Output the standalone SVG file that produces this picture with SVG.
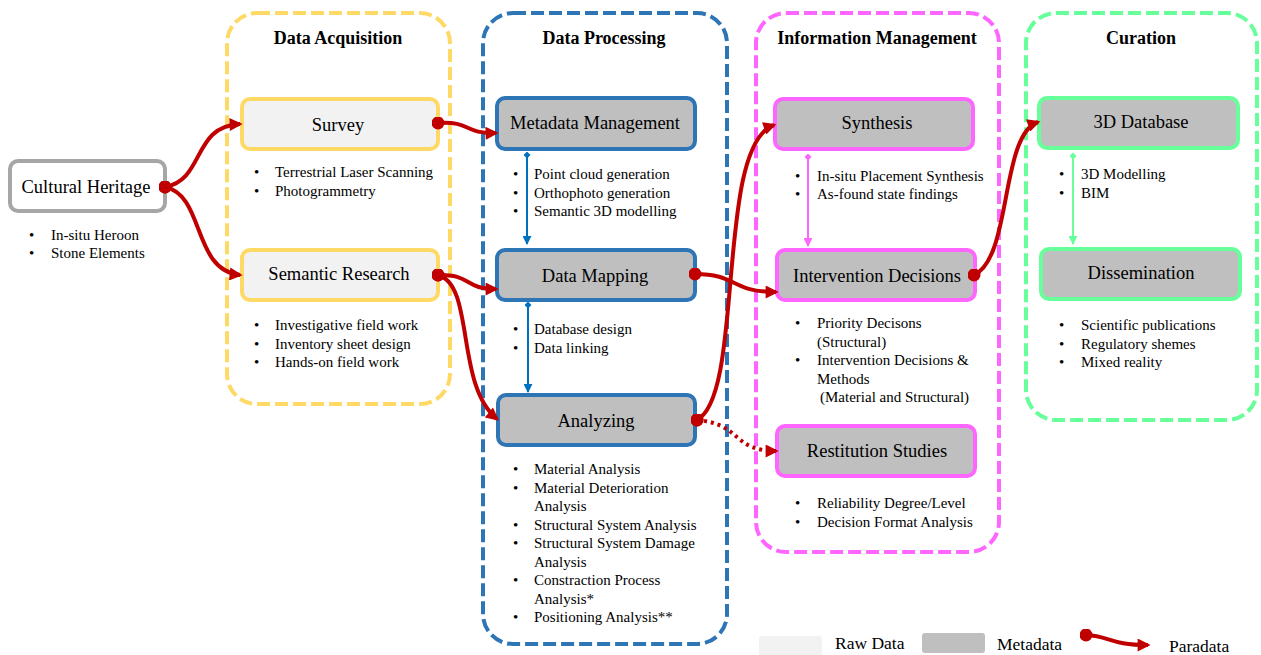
<svg xmlns="http://www.w3.org/2000/svg" width="1261" height="655" viewBox="0 0 1261 655">
<style>
text{font-family:"Liberation Serif","Times New Roman",serif;fill:#000}
.title{font-size:18px;font-weight:bold;text-anchor:middle}
.lbl{font-size:18.5px;text-anchor:middle}
.b{font-size:15px}
.lg{font-size:17.5px}
.cont{fill:none;stroke-width:4;stroke-dasharray:13 5}
.node{stroke-width:4}
.raw{fill:#f2f2f2}
.meta{fill:#bfbfbf}
.red{fill:none;stroke:#c00000;stroke-width:4;marker-start:url(#dot);marker-end:url(#ah)}
.dotted{fill:none;stroke:#c00000;stroke-width:4;stroke-dasharray:3 4;marker-start:url(#dot);marker-end:url(#ah)}
</style>
<defs>
<marker id="ah" viewBox="0 0 10 10" refX="8" refY="5" markerWidth="14" markerHeight="13" markerUnits="userSpaceOnUse" orient="auto"><path d="M0,0 L10,5 L0,10 z" fill="#c00000"/></marker>
<marker id="dot" viewBox="0 0 10 10" refX="5" refY="5" markerWidth="13" markerHeight="13" markerUnits="userSpaceOnUse"><circle cx="5" cy="5" r="5" fill="#c00000"/></marker>
<marker id="ahB" viewBox="0 0 10 10" refX="9" refY="5" markerWidth="9" markerHeight="9" markerUnits="userSpaceOnUse" orient="auto"><path d="M0,0 L10,5 L0,10 z" fill="#0070c0"/></marker>
<marker id="dmB" viewBox="0 0 10 10" refX="5" refY="5" markerWidth="7" markerHeight="7" markerUnits="userSpaceOnUse" orient="auto"><path d="M0,5 L5,0 L10,5 L5,10 z" fill="#0070c0"/></marker>
<marker id="ahM" viewBox="0 0 10 10" refX="9" refY="5" markerWidth="9" markerHeight="9" markerUnits="userSpaceOnUse" orient="auto"><path d="M0,0 L10,5 L0,10 z" fill="#ff66ff"/></marker>
<marker id="dmM" viewBox="0 0 10 10" refX="5" refY="5" markerWidth="7" markerHeight="7" markerUnits="userSpaceOnUse" orient="auto"><path d="M0,5 L5,0 L10,5 L5,10 z" fill="#ff66ff"/></marker>
<marker id="ahG" viewBox="0 0 10 10" refX="9" refY="5" markerWidth="9" markerHeight="9" markerUnits="userSpaceOnUse" orient="auto"><path d="M0,0 L10,5 L0,10 z" fill="#66ff99"/></marker>
<marker id="dmG" viewBox="0 0 10 10" refX="5" refY="5" markerWidth="7" markerHeight="7" markerUnits="userSpaceOnUse" orient="auto"><path d="M0,5 L5,0 L10,5 L5,10 z" fill="#66ff99"/></marker>
</defs>

<g id="containers">
<g id="grp-acq"><rect class="cont" x="227" y="13" width="223" height="391" rx="30" stroke="#ffd966"/><text class="title" x="338" y="44">Data Acquisition</text></g>
<g id="grp-proc"><rect class="cont" x="483" y="13" width="244" height="631" rx="30" stroke="#2e75b6"/><text class="title" x="604" y="44">Data Processing</text></g>
<g id="grp-info"><rect class="cont" x="756" y="13" width="243" height="539" rx="30" stroke="#ff66ff"/><text class="title" x="877" y="44">Information Management</text></g>
<g id="grp-cur"><rect class="cont" x="1026" y="13" width="231" height="407" rx="30" stroke="#66ff99"/><text class="title" x="1141" y="44">Curation</text></g>
</g>

<g id="n-ch"><rect class="node" x="10" y="161" width="155" height="50" rx="8" fill="#fff" stroke="#a6a6a6"/><text class="lbl" x="86" y="193">Cultural Heritage</text>
<text class="b" x="29" y="240">•</text><text class="b" x="51" y="240">In-situ Heroon</text>
<text class="b" x="29" y="258">•</text><text class="b" x="51" y="258">Stone Elements</text></g>

<g id="n-survey"><rect class="node raw" x="242" y="99" width="196" height="50" rx="8" stroke="#ffd966"/><text class="lbl" x="338" y="131">Survey</text>
<text class="b" x="254" y="177">•</text><text class="b" x="275" y="177">Terrestrial Laser Scanning</text>
<text class="b" x="254" y="195.5">•</text><text class="b" x="275" y="195.5">Photogrammetry</text></g>

<g id="n-sem"><rect class="node raw" x="242" y="250" width="196" height="50" rx="8" stroke="#ffd966"/><text class="lbl" x="339" y="280">Semantic Research</text>
<text class="b" x="254" y="330">•</text><text class="b" x="275" y="330">Investigative field work</text>
<text class="b" x="254" y="348.5">•</text><text class="b" x="275" y="348.5">Inventory sheet design</text>
<text class="b" x="254" y="367">•</text><text class="b" x="275" y="367">Hands-on field work</text></g>

<g id="n-meta"><rect class="node meta" x="497" y="98" width="198" height="51" rx="8" stroke="#2e75b6"/><text class="lbl" x="595" y="129">Metadata Management</text>
<text class="b" x="513" y="179">•</text><text class="b" x="534" y="179">Point cloud generation</text>
<text class="b" x="513" y="197.5">•</text><text class="b" x="534" y="197.5">Orthophoto generation</text>
<text class="b" x="513" y="216">•</text><text class="b" x="534" y="216">Semantic 3D modelling</text></g>

<g id="n-map"><rect class="node meta" x="497" y="250" width="198" height="50" rx="8" stroke="#2e75b6"/><text class="lbl" x="595" y="282">Data Mapping</text>
<text class="b" x="513" y="334">•</text><text class="b" x="534" y="334">Database design</text>
<text class="b" x="513" y="352.5">•</text><text class="b" x="534" y="352.5">Data linking</text></g>

<g id="n-ana"><rect class="node meta" x="498" y="395" width="197" height="50" rx="8" stroke="#2e75b6"/><text class="lbl" x="596" y="427">Analyzing</text>
<text class="b" x="513" y="474">•</text><text class="b" x="534" y="474">Material Analysis</text>
<text class="b" x="513" y="492.5">•</text><text class="b" x="534" y="492.5">Material Deterioration</text>
<text class="b" x="534" y="511">Analysis</text>
<text class="b" x="513" y="529.5">•</text><text class="b" x="534" y="529.5">Structural System Analysis</text>
<text class="b" x="513" y="548">•</text><text class="b" x="534" y="548">Structural System Damage</text>
<text class="b" x="534" y="566.5">Analysis</text>
<text class="b" x="513" y="585">•</text><text class="b" x="534" y="585">Constraction Process</text>
<text class="b" x="534" y="603.5">Analysis*</text>
<text class="b" x="513" y="622">•</text><text class="b" x="534" y="622">Positioning Analysis**</text></g>

<g id="n-syn"><rect class="node meta" x="775" y="99" width="198" height="50" rx="8" stroke="#ff66ff"/><text class="lbl" x="877" y="129">Synthesis</text>
<text class="b" x="795" y="181">•</text><text class="b" x="817" y="181">In-situ Placement Synthesis</text>
<text class="b" x="795" y="199">•</text><text class="b" x="817" y="199">As-found state findings</text></g>

<g id="n-int"><rect class="node meta" x="777" y="250" width="198" height="50" rx="8" stroke="#ff66ff"/><text class="lbl" x="877" y="282">Intervention Decisions</text>
<text class="b" x="795" y="328">•</text><text class="b" x="817" y="328">Priority Decisons</text>
<text class="b" x="817" y="346.5">(Structural)</text>
<text class="b" x="795" y="365">•</text><text class="b" x="817" y="365">Intervention Decisions &amp;</text>
<text class="b" x="817" y="383.5">Methods</text>
<text class="b" x="820" y="402">(Material and Structural)</text></g>

<g id="n-res"><rect class="node meta" x="777" y="426" width="198" height="50" rx="8" stroke="#ff66ff"/><text class="lbl" x="877" y="457">Restitution Studies</text>
<text class="b" x="795" y="508">•</text><text class="b" x="817" y="508">Reliability Degree/Level</text>
<text class="b" x="795" y="526.5">•</text><text class="b" x="817" y="526.5">Decision Format Analysis</text></g>

<g id="n-3d"><rect class="node meta" x="1039" y="98" width="199" height="50" rx="8" stroke="#66ff99"/><text class="lbl" x="1141" y="128">3D Database</text>
<text class="b" x="1059" y="179">•</text><text class="b" x="1081" y="179">3D Modelling</text>
<text class="b" x="1059" y="197.5">•</text><text class="b" x="1081" y="197.5">BIM</text></g>

<g id="n-dis"><rect class="node meta" x="1041" y="249" width="199" height="50" rx="8" stroke="#66ff99"/><text class="lbl" x="1141" y="279">Dissemination</text>
<text class="b" x="1059" y="330">•</text><text class="b" x="1081" y="330">Scientific publications</text>
<text class="b" x="1059" y="348.5">•</text><text class="b" x="1081" y="348.5">Regulatory shemes</text>
<text class="b" x="1059" y="367">•</text><text class="b" x="1081" y="367">Mixed reality</text></g>

<g id="connectors">
<path stroke="#0070c0" stroke-width="2" fill="none" marker-start="url(#dmB)" marker-end="url(#ahB)" d="M527,155 L527,244"/>
<path stroke="#0070c0" stroke-width="2" fill="none" marker-start="url(#dmB)" marker-end="url(#ahB)" d="M528,305 L528,392"/>
<path stroke="#ff66ff" stroke-width="2" fill="none" marker-start="url(#dmM)" marker-end="url(#ahM)" d="M808,157 L808,246"/>
<path stroke="#66ff99" stroke-width="2" fill="none" marker-start="url(#dmG)" marker-end="url(#ahG)" d="M1073,156 L1073,244"/>
<path class="red" d="M165,187 C205,180 192,126 240,124"/>
<path class="red" d="M165,187 C205,195 192,270 240,275"/>
<path class="red" d="M438,123 C472,121 463,134 496,133"/>
<path class="red" d="M438,275 C472,274 463,289 496,289"/>
<path class="red" d="M438,275 C475,285 455,385 497,419"/>
<path class="red" d="M695,274 C738,274 730,292 776,292"/>
<path class="red" d="M697,420 C745,395 715,145 774,125"/>
<path class="dotted" d="M697,420 C742,424 732,451 776,451"/>
<path class="red" d="M974,275 C1012,258 1000,135 1038,122"/>
</g>

<g id="legend">
<rect x="759" y="636" width="63" height="22" rx="3" fill="#f2f2f2"/><text class="lg" x="835" y="649">Raw Data</text>
<rect x="922" y="633" width="63" height="20" rx="3" fill="#bfbfbf"/><text class="lg" x="997" y="650">Metadata</text>
<path class="red" d="M1086,635 C1110,636 1110,645 1148,645"/><text class="lg" x="1169" y="652">Paradata</text>
</g>
</svg>
